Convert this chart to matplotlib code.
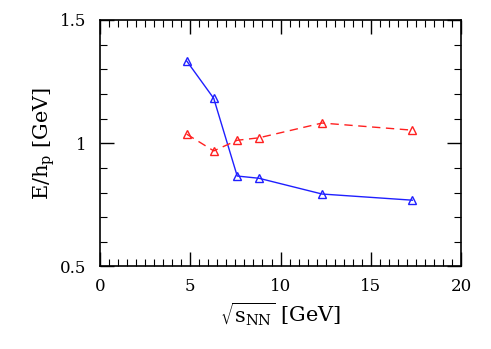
import numpy as np
import matplotlib.pyplot as plt
from matplotlib.ticker import MultipleLocator

# 数据
sqrt_s = [4.8, 6.3, 7.6, 8.8, 12.3, 17.3]
blue_vals = [1.334, 1.182, 0.867, 0.858, 0.794, 0.769]
red_vals = [1.037, 0.969, 1.012, 1.022, 1.082, 1.053]
y_ticks = [0.5, 1.0, 1.5]
y_ticklabels = ['0.5', '1', '1.5']

plt.rcParams['font.family'] = ['DejaVu Serif']
plt.rcParams['mathtext.fontset'] = 'dejavuserif'

fig = plt.figure(figsize=(4.91, 3.49), dpi=100)
ax = fig.add_axes([0.2037, 0.2364, 0.7353, 0.7063])

ax.plot(sqrt_s, blue_vals, '-', color='#1f1fff', lw=1.0, marker='^',
        mfc='none', mec='#1f1fff', ms=6, mew=1.0)
ax.plot(sqrt_s, red_vals, '--', color='#ff2020', lw=1.0, marker='^',
        mfc='none', mec='#ff2020', ms=6, mew=1.0, dashes=(6, 4))

ax.set_xlim(0, 20)
ax.set_ylim(0.5, 1.5)
ax.xaxis.set_major_locator(MultipleLocator(5))
ax.xaxis.set_minor_locator(MultipleLocator(0.5))
ax.yaxis.set_minor_locator(MultipleLocator(0.1))
ax.set_yticks(y_ticks)
ax.set_yticklabels(y_ticklabels)

ax.tick_params(which='both', direction='in', top=True, right=True, labelsize=12)
ax.tick_params(which='major', length=10, width=1)
ax.tick_params(which='minor', length=5, width=0.8)
ax.tick_params(axis='x', which='major', pad=8)
ax.tick_params(axis='y', which='major', pad=10)
for sp in ax.spines.values():
    sp.set_linewidth(1.2)

ax.set_xlabel(r'$\sqrt{\mathrm{s}_{\rm NN}}$ [GeV]', fontsize=15, labelpad=4)
ax.set_ylabel(r'E/h$_{\rm p}$ [GeV]', fontsize=15, labelpad=2)

fig.savefig('out.png', dpi=100)
